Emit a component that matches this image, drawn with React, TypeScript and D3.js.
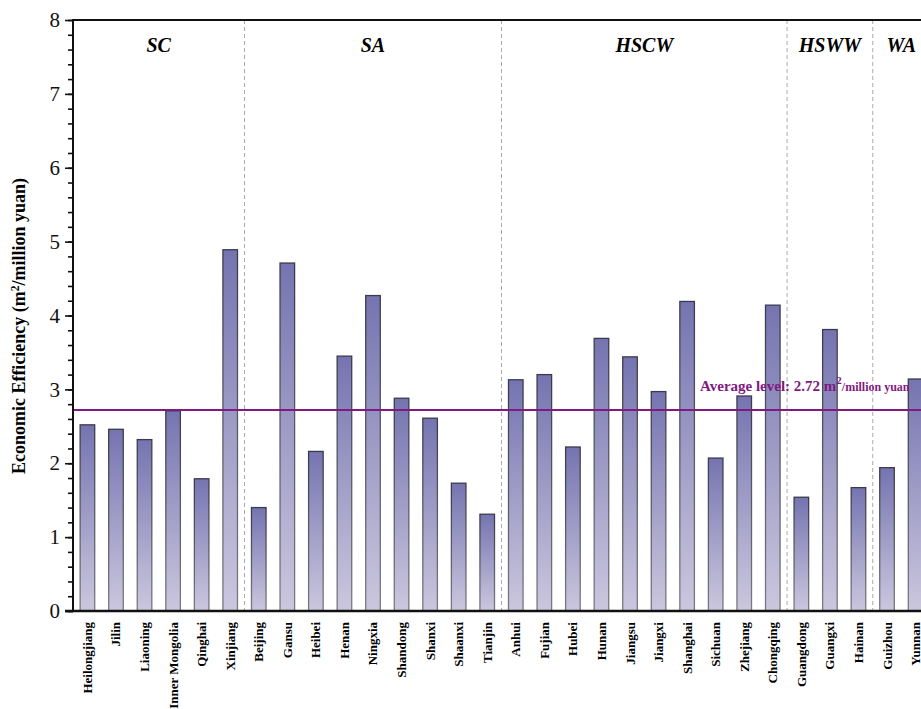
import * as d3 from "d3";
import React, { useEffect, useRef } from "react";

// provinces, left to right
const provinces = [
  "Heilongjiang", "Jilin", "Liaoning", "Inner Mongolia", "Qinghai", "Xinjiang",
  "Beijing", "Gansu", "Heibei", "Henan", "Ningxia", "Shandong", "Shanxi", "Shaanxi", "Tianjin",
  "Anhui", "Fujian", "Hubei", "Hunan", "Jiangsu", "Jiangxi", "Shanghai", "Sichuan", "Zhejiang", "Chongqing",
  "Guangdong", "Guangxi", "Hainan",
  "Guizhou", "Yunnan",
];

// economic efficiency, m2 / million yuan
const efficiency = [
  2.52, 2.46, 2.32, 2.71, 1.79, 4.89,
  1.40, 4.71, 2.16, 3.45, 4.27, 2.88, 2.61, 1.73, 1.31,
  3.13, 3.20, 2.22, 3.69, 3.44, 2.97, 4.19, 2.07, 2.91, 4.14,
  1.54, 3.81, 1.67,
  1.94, 3.14,
];

// climate zones and how many provinces each holds
const zones = ["SC", "SA", "HSCW", "HSWW", "WA"];
const zoneSizes = [6, 9, 10, 3, 2];

const average = 2.72;
const yTicks = [0, 1, 2, 3, 4, 5, 6, 7, 8];

const W = 921;
const H = 709;
const FONT = "Liberation Serif, Times New Roman, Tinos, DejaVu Serif, serif";

function drawChart(el: SVGSVGElement) {
  const svg = d3.select(el);
  svg.selectAll("*").remove();
  svg.attr("font-family", FONT);

  const left = 73, top = 20, bottom = 611, right = 930;

  const x = d3.scaleBand<string>()
    .domain(provinces)
    .range([left, right])
    .paddingInner(0.49)
    .paddingOuter(0.25);
  const y = d3.scaleLinear().domain([0, 8]).range([bottom, top]);

  const defs = svg.append("defs");
  const fillGrad = defs.append("linearGradient")
    .attr("id", "barFill").attr("x1", 0).attr("y1", 0).attr("x2", 0).attr("y2", 1);
  fillGrad.append("stop").attr("offset", "0%").attr("stop-color", "#7574b0");
  fillGrad.append("stop").attr("offset", "100%").attr("stop-color", "#cbc7de");
  const strokeGrad = defs.append("linearGradient")
    .attr("id", "barStroke").attr("x1", 0).attr("y1", 0).attr("x2", 0).attr("y2", 1);
  strokeGrad.append("stop").attr("offset", "0%").attr("stop-color", "#3a3a4c");
  strokeGrad.append("stop").attr("offset", "100%").attr("stop-color", "#7a7a82");

  // zone extents (halfway between neighbouring bands)
  const step = x.step();
  const gap = (step - x.bandwidth()) / 2;
  let idx = 0;
  const zoneBounds: [number, number][] = [];
  zoneSizes.forEach((n, i) => {
    const first = x(provinces[idx])!;
    const last = x(provinces[idx + n - 1])!;
    const x0 = i === 0 ? left : first - gap;
    const x1 = i === zoneSizes.length - 1 ? right : last + x.bandwidth() + gap;
    zoneBounds.push([x0, x1]);
    idx += n;
  });

  svg.append("g")
    .selectAll("line")
    .data(zoneBounds.slice(1))
    .join("line")
    .attr("x1", d => d[0]).attr("x2", d => d[0])
    .attr("y1", top).attr("y2", bottom)
    .attr("stroke", "#aaaaaa")
    .attr("stroke-width", 1)
    .attr("stroke-dasharray", "4,3");

  svg.append("g")
    .selectAll("text")
    .data(zones)
    .join("text")
    .attr("x", (d, i) => (zoneBounds[i][0] + zoneBounds[i][1]) / 2)
    .attr("y", 52)
    .attr("text-anchor", "middle")
    .attr("font-family", FONT)
    .attr("font-weight", "bold")
    .attr("font-style", "italic")
    .attr("font-size", 20)
    .text(d => d);

  // bars
  svg.append("g")
    .selectAll("rect")
    .data(provinces)
    .join("rect")
    .attr("x", d => x(d)!)
    .attr("y", (d, i) => y(efficiency[i]))
    .attr("width", x.bandwidth())
    .attr("height", (d, i) => bottom - y(efficiency[i]))
    .attr("fill", "url(#barFill)")
    .attr("stroke", "url(#barStroke)")
    .attr("stroke-width", 1.3);

  // average line
  svg.append("line")
    .attr("x1", left).attr("x2", W)
    .attr("y1", y(average)).attr("y2", y(average))
    .attr("stroke", "#7f1a82")
    .attr("stroke-width", 2);

  const avgText = svg.append("text")
    .attr("x", 700)
    .attr("y", y(average) - 19)
    .attr("fill", "#7f1a82")
    .attr("font-family", FONT)
    .attr("font-weight", "bold")
    .attr("font-size", 15);
  avgText.append("tspan").text(`Average level: ${average} m`);
  avgText.append("tspan").attr("dy", -7).attr("font-size", 11).text("2");
  avgText.append("tspan").attr("dy", 7).attr("font-size", 12).text("/million yuan");

  // y axis: minor ticks every 0.2, major every 1
  const yAxis = svg.append("g").attr("transform", `translate(${left},0)`);
  yAxis.append("g").call(
    d3.axisLeft(y).tickValues(d3.range(0, 8.01, 0.2)).tickSize(5).tickFormat(() => "")
  );
  yAxis.append("g").call(
    d3.axisLeft(y).tickValues(yTicks).tickSize(8).tickPadding(5).tickFormat(d3.format("d"))
  );
  yAxis.selectAll(".domain").remove();
  yAxis.selectAll("line").attr("stroke", "#111").attr("stroke-width", 1.6);
  yAxis.selectAll("g").attr("font-family", FONT).attr("font-size", 21);
  yAxis.selectAll("text").attr("fill", "#111");

  // frame
  svg.append("line").attr("x1", left).attr("x2", left).attr("y1", top - 1).attr("y2", bottom + 1)
    .attr("stroke", "#111").attr("stroke-width", 2);
  svg.append("line").attr("x1", left - 1).attr("x2", W).attr("y1", top).attr("y2", top)
    .attr("stroke", "#111").attr("stroke-width", 2);
  svg.append("line").attr("x1", left - 8).attr("x2", W).attr("y1", bottom).attr("y2", bottom)
    .attr("stroke", "#111").attr("stroke-width", 2.5);

  // x labels
  svg.append("g")
    .selectAll("text")
    .data(provinces)
    .join("text")
    .attr("transform", d => `translate(${x(d)! + x.bandwidth() / 2 + 4.5},${bottom + 11}) rotate(-90)`)
    .attr("text-anchor", "end")
    .attr("font-family", FONT)
    .attr("font-weight", "bold")
    .attr("font-size", 13)
    .text(d => d);

  // y title
  const yTitle = svg.append("text")
    .attr("transform", `translate(25,326) rotate(-90)`)
    .attr("text-anchor", "middle")
    .attr("font-family", FONT)
    .attr("font-weight", "bold")
    .attr("font-size", 18);
  yTitle.append("tspan").text("Economic Efficiency (m");
  yTitle.append("tspan").attr("dy", -6).attr("font-size", 11.5).text("2");
  yTitle.append("tspan").attr("dy", 6).text("/million yuan)");
}

export default function App() {
  const ref = useRef<SVGSVGElement>(null);
  useEffect(() => {
    if (ref.current) drawChart(ref.current);
  }, []);
  return (
    <div style={{ position: "absolute", left: 0, top: 0, width: W, height: H, overflow: "hidden", background: "#fff" }}>
      <svg ref={ref} width={W} height={H} style={{ display: "block" }} />
    </div>
  );
}
